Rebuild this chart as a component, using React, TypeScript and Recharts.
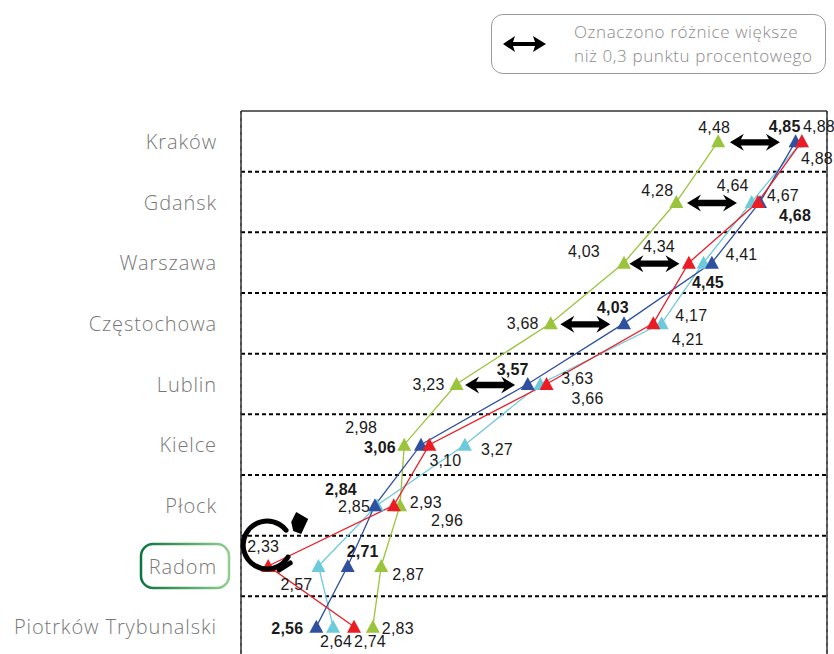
import React from "react";
import {
    LineChart,
    Line,
    XAxis,
    YAxis,
    CartesianGrid,
    ReferenceLine,
    ReferenceDot
} from "recharts";

// cities top to bottom
const cities = ["Kraków", "Gdańsk", "Warszawa", "Częstochowa", "Lublin", "Kielce", "Płock", "Radom", "Piotrków Trybunalski"];

// values per series, same order as cities
const greenValues = [4.48, 4.28, 4.03, 3.68, 3.23, 2.98, 2.96, 2.87, 2.83];
const cyanValues = [4.88, 4.64, 4.41, 4.21, 3.63, 3.27, 2.85, 2.57, 2.64];
const blueValues = [4.85, 4.68, 4.45, 4.03, 3.57, 3.06, 2.84, 2.71, 2.56];
const redValues = [4.88, 4.67, 4.34, 4.17, 3.66, 3.10, 2.93, 2.33, 2.74];

const xTicks = [2.2, 2.4, 2.6, 2.8, 3.0, 3.2, 3.4, 3.6, 3.8, 4.0, 4.2, 4.4, 4.6, 4.8, 5.0];

// differences above 0.3 pp: [city, from series, to series]
const arrows = [
    ["Kraków", "green", "blue"],
    ["Gdańsk", "green", "cyan"],
    ["Warszawa", "green", "red"],
    ["Częstochowa", "green", "blue"],
    ["Lublin", "green", "blue"]
];

const circledCity = "Radom";

// label offsets (dx, dy) from each marker
const greenLabelPos = [[-4, -14], [-19, -12], [-40, -11], [-28, 0], [-28, 0], [-43, -17], [47, 15], [27, 8], [25, 2]];
const cyanLabelPos = [[15, 17], [-19, -17], [38, -8], [26, 16], [37, -6], [32, 5], [-23, 1], [-22, 18], [3, 15]];
const blueLabelPos = [[-11, -15], [35, 13], [-4, 20], [-11, -16], [-15, -15], [-41, 3], [-34, -16], [15, -15], [-29, 2]];
const redLabelPos = [[17, -15], [25, -7], [-30, -16], [38, -8], [41, 14], [16, 16], [32, -3], [-5, -20], [16, 15]];

const rows = cities.map((city, i) => ({
    city,
    idx: i,
    green: greenValues[i],
    cyan: cyanValues[i],
    blue: blueValues[i],
    red: redValues[i]
}));

const colors: any = {
    green: "#9AC43C",
    cyan: "#6CCADB",
    blue: "#2F4F9F",
    red: "#EC1C24"
};

const fmt = (v: number) => v.toFixed(2).replace(".", ",");

const makeDot = (key: string, offsets: number[][], bold: boolean) => (p: any) => {
    const { cx, cy, index, payload } = p;
    if (cx == null || cy == null) return <g key={`${key}-${index}`} />;
    const [dx, dy] = offsets[index];
    return (
        <g key={`${key}-${index}`}>
            <polygon points={`${cx},${cy - 7} ${cx - 7},${cy + 6} ${cx + 7},${cy + 6}`} fill={colors[key]} />
            <text
                x={cx + dx}
                y={cy + dy}
                textAnchor="middle"
                dominantBaseline="central"
                fontFamily="'Liberation Sans', Arial, sans-serif"
                fontSize={16}
                fontWeight={bold ? 700 : 400}
                letterSpacing={0.2}
                fill="#1a1a1a"
            >
                {fmt(payload[key])}
            </text>
        </g>
    );
};

const CityTick = (props: any) => {
    const { x, y, payload } = props;
    const name = cities[payload.value];
    return (
        <g>
            {name === circledCity && (
                <rect x={x - 76} y={y - 22} width={88} height={44} rx={12} fill="none" stroke="url(#radomGrad)" strokeWidth={2.5} />
            )}
            <text x={x} y={y} textAnchor="end" dominantBaseline="central" fontFamily="'Open Sans', sans-serif" fontWeight={300} fontSize={20} letterSpacing={0.9} fill="#777">
                {name}
            </text>
        </g>
    );
};

// fixed-length double arrow centred between the two compared markers
const DoubleArrow = (p: any) => {
    const { x1, y1, x2 } = p;
    const mid = (x1 + x2) / 2 - 2;
    const a = mid - 25;
    const b = mid + 25;
    const y = y1 + 1;
    const hl = 13, hh = 8.5, sh = 3.2;
    const pts = [
        [a, y], [a + hl + 1, y - hh], [a + hl - 2, y - sh], [b - hl + 2, y - sh], [b - hl - 1, y - hh],
        [b, y], [b - hl - 1, y + hh], [b - hl + 2, y + sh], [a + hl - 2, y + sh], [a + hl + 1, y + hh]
    ];
    return <polygon points={pts.map(q => q.join(",")).join(" ")} fill="#000" />;
};

// hand-drawn looking circle around the Radom outlier
const CircleMark = (p: any) => {
    const { cx, cy } = p;
    const c = { x: cx - 1, y: cy - 21 };
    const r = 24;
    const circ = 2 * Math.PI * r;
    const visible = (290 / 360) * circ;
    return (
        <g>
            <circle
                cx={c.x}
                cy={c.y}
                r={r}
                fill="none"
                stroke="#000"
                strokeWidth={5}
                strokeLinecap="round"
                strokeDasharray={`${visible} ${circ}`}
                transform={`rotate(30 ${c.x} ${c.y})`}
            />
            <path d={`M${c.x + 12},${c.y + 25} L${c.x + 23},${c.y + 18}`} stroke="#000" strokeWidth={5} strokeLinecap="round" />
            <polygon
                points={`${c.x + 29},${c.y - 33} ${c.x + 41},${c.y - 26} ${c.x + 34},${c.y - 11} ${c.x + 26},${c.y - 14} ${c.x + 24},${c.y - 23}`}
                fill="#000"
            />
        </g>
    );
};

function LegendBox() {
    return (
        <div style={{
            position: "absolute", left: 491, top: 14, width: 335, height: 60,
            border: "1px solid #9a9a9a", borderRadius: 12, boxSizing: "border-box", background: "#fff"
        }}>
            <svg width={60} height={59} style={{ position: "absolute", left: 0, top: 0 }}>
                <polygon points="11,29 23,21 21,27 43,27 41,21 54,29 41,37 43,31 21,31 23,37" fill="#000" />
            </svg>
            <div style={{
                position: "absolute", left: 82, top: 5, fontFamily: "'Open Sans', sans-serif", fontWeight: 300,
                fontSize: 17, lineHeight: "24px", color: "#8a8a8a", letterSpacing: 0.6, whiteSpace: "nowrap"
            }}>
                <div>Oznaczono różnice większe</div>
                <div>niż 0,3 punktu procentowego</div>
            </div>
        </div>
    );
}

export default function App() {
    const cityIndex = (name: string) => cities.indexOf(name);
    return (
        <div style={{ position: "fixed", left: 0, top: 0, width: 834, height: 654, overflow: "hidden", background: "#fff" }}>
            <LineChart
                width={834}
                height={660}
                data={rows}
                layout="vertical"
                margin={{ top: 81, right: 7, bottom: 3, left: 0 }}
            >
                <defs>
                    <linearGradient id="radomGrad" x1="0" y1="0" x2="1" y2="0">
                        <stop offset="0%" stopColor="#0B7440" />
                        <stop offset="100%" stopColor="#8FD08E" />
                    </linearGradient>
                </defs>
                <CartesianGrid horizontal={false} stroke="#9a9a9a" strokeDasharray="3 4" strokeWidth={2} />
                <XAxis
                    type="number"
                    orientation="top"
                    domain={[2.2, 5.0]}
                    ticks={xTicks}
                    tick={false}
                    tickSize={6}
                    height={30}
                    axisLine={{ stroke: "#333", strokeWidth: 1.5 }}
                    tickLine={{ stroke: "#333", strokeWidth: 1.5 }}
                />
                <YAxis
                    type="number"
                    dataKey="idx"
                    domain={[-0.5, cities.length - 0.5]}
                    ticks={cities.map((_, i) => i)}
                    interval={0}
                    width={241}
                    tickSize={0}
                    tickMargin={24}
                    tickLine={false}
                    tick={<CityTick />}
                    axisLine={{ stroke: "#333", strokeWidth: 1.5 }}
                />
                {cities.slice(1).map((_, i) => (
                    <ReferenceLine key={`h${i}`} y={i + 0.5} stroke="#000" strokeDasharray="4 3" strokeWidth={2} />
                ))}
                <ReferenceLine x={5.0} stroke="#333" strokeWidth={1.5} />
                <Line dataKey="green" stroke={colors.green} strokeWidth={1.3} dot={makeDot("green", greenLabelPos, false)} isAnimationActive={false} activeDot={false} />
                <Line dataKey="cyan" stroke={colors.cyan} strokeWidth={1.3} dot={makeDot("cyan", cyanLabelPos, false)} isAnimationActive={false} activeDot={false} />
                <Line dataKey="blue" stroke={colors.blue} strokeWidth={1.3} dot={makeDot("blue", blueLabelPos, true)} isAnimationActive={false} activeDot={false} />
                <Line dataKey="red" stroke={colors.red} strokeWidth={1.3} dot={makeDot("red", redLabelPos, false)} isAnimationActive={false} activeDot={false} />
                {arrows.map(([city, from, to]) => {
                    const row: any = rows[cityIndex(city)];
                    return (
                        <ReferenceLine
                            key={`a-${city}`}
                            segment={[{ x: row[from], y: row.idx }, { x: row[to], y: row.idx }]}
                            shape={DoubleArrow}
                        />
                    );
                })}
                <ReferenceDot
                    x={rows[cityIndex(circledCity)].red}
                    y={cityIndex(circledCity)}
                    r={1}
                    shape={CircleMark}
                />
            </LineChart>
            <LegendBox />
        </div>
    );
}
